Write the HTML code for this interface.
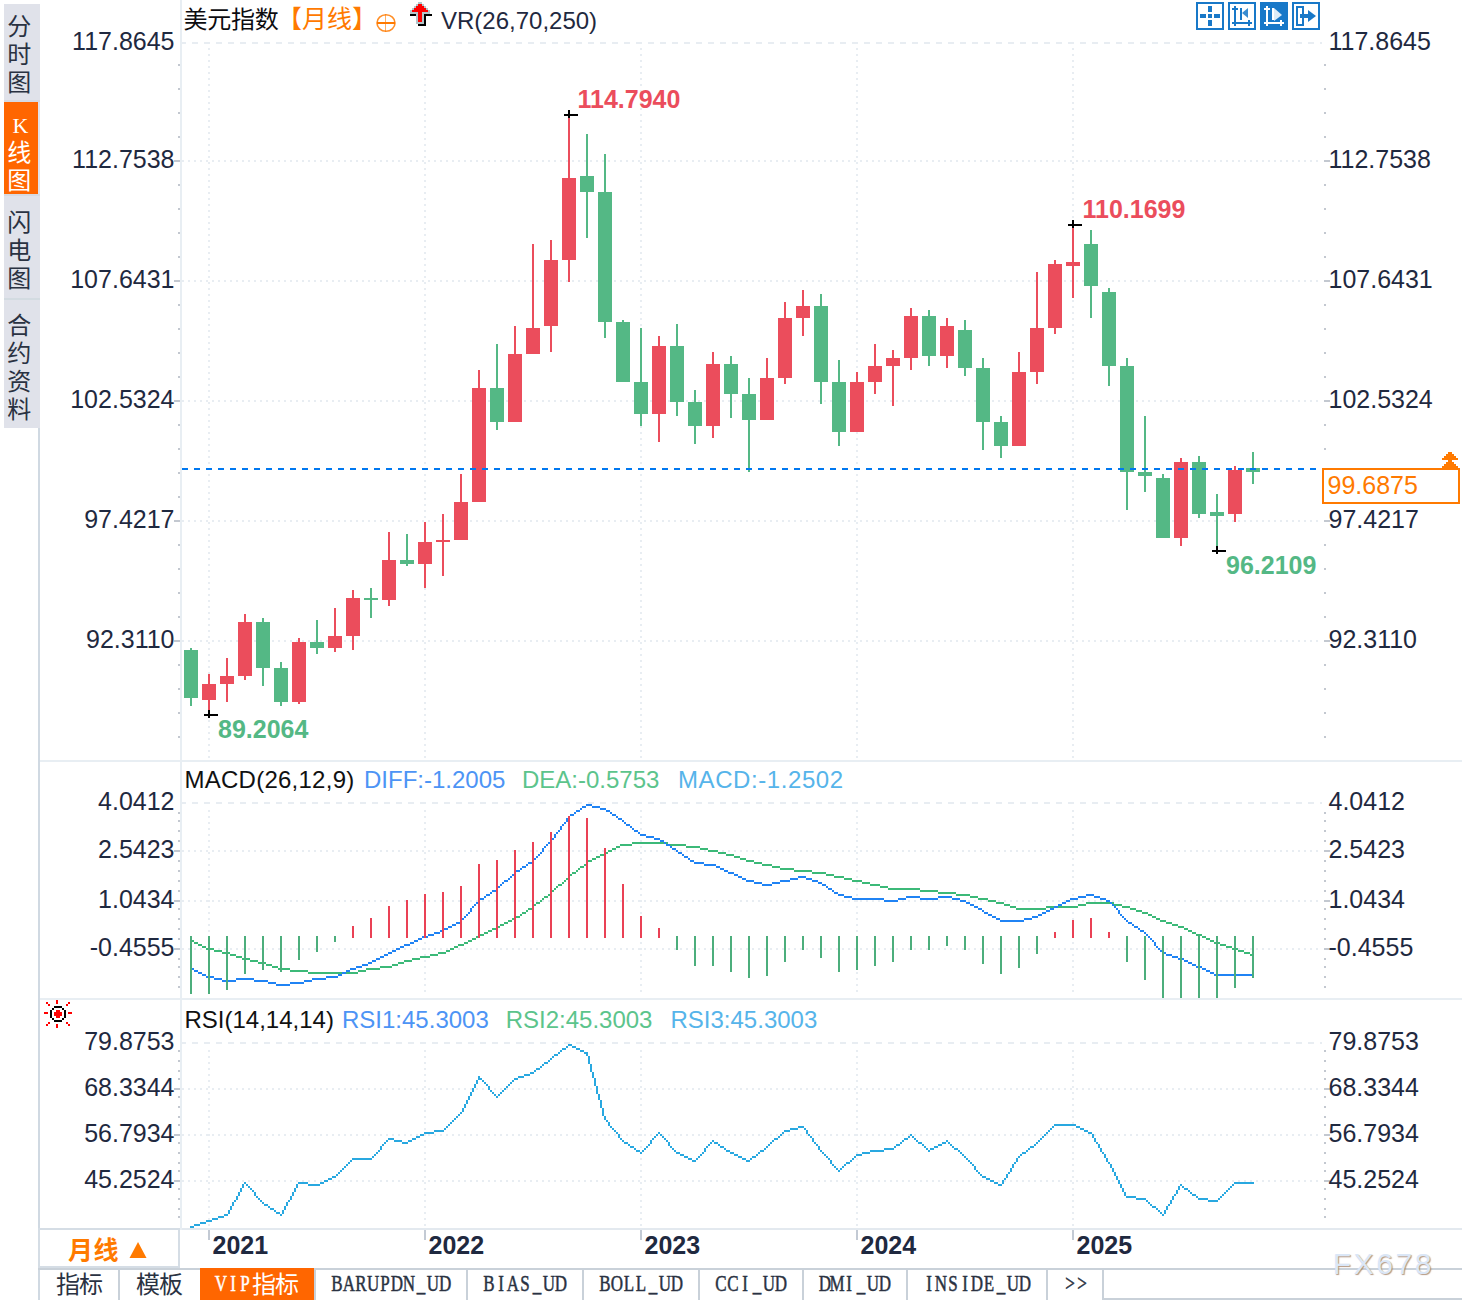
<!DOCTYPE html>
<html><head><meta charset="utf-8"><title>chart</title>
<style>
html,body{margin:0;padding:0;background:#fff;overflow:hidden}
svg{display:block;font-family:"Liberation Sans",sans-serif}
text{white-space:pre}
</style></head><body>
<svg width="1462" height="1300" viewBox="0 0 1462 1300">
<rect x="0" y="0" width="1462" height="1300" fill="#ffffff"/>
<g shape-rendering="crispEdges">
<line x1="180" x2="1322" y1="43" y2="43" stroke="#e8edf2" stroke-width="2" stroke-dasharray="6 6"/>
<line x1="182" x2="1322" y1="161" y2="161" stroke="#e8edf2" stroke-width="2" stroke-dasharray="2 4"/>
<line x1="182" x2="1322" y1="281" y2="281" stroke="#e8edf2" stroke-width="2" stroke-dasharray="2 4"/>
<line x1="182" x2="1322" y1="401" y2="401" stroke="#e8edf2" stroke-width="2" stroke-dasharray="2 4"/>
<line x1="182" x2="1322" y1="521" y2="521" stroke="#e8edf2" stroke-width="2" stroke-dasharray="2 4"/>
<line x1="182" x2="1322" y1="641" y2="641" stroke="#e8edf2" stroke-width="2" stroke-dasharray="2 4"/>
<line x1="209" x2="209" y1="48" y2="758" stroke="#e8edf2" stroke-width="2" stroke-dasharray="2 4"/>
<line x1="425" x2="425" y1="48" y2="758" stroke="#e8edf2" stroke-width="2" stroke-dasharray="2 4"/>
<line x1="641" x2="641" y1="48" y2="758" stroke="#e8edf2" stroke-width="2" stroke-dasharray="2 4"/>
<line x1="857" x2="857" y1="48" y2="758" stroke="#e8edf2" stroke-width="2" stroke-dasharray="2 4"/>
<line x1="1073" x2="1073" y1="48" y2="758" stroke="#e8edf2" stroke-width="2" stroke-dasharray="2 4"/>
<line x1="180" x2="1322" y1="803" y2="803" stroke="#e8edf2" stroke-width="2" stroke-dasharray="6 6"/>
<line x1="182" x2="1322" y1="851" y2="851" stroke="#e8edf2" stroke-width="2" stroke-dasharray="2 4"/>
<line x1="182" x2="1322" y1="901" y2="901" stroke="#e8edf2" stroke-width="2" stroke-dasharray="2 4"/>
<line x1="182" x2="1322" y1="949" y2="949" stroke="#e8edf2" stroke-width="2" stroke-dasharray="2 4"/>
<line x1="209" x2="209" y1="810" y2="996" stroke="#e8edf2" stroke-width="2" stroke-dasharray="2 4"/>
<line x1="425" x2="425" y1="810" y2="996" stroke="#e8edf2" stroke-width="2" stroke-dasharray="2 4"/>
<line x1="641" x2="641" y1="810" y2="996" stroke="#e8edf2" stroke-width="2" stroke-dasharray="2 4"/>
<line x1="857" x2="857" y1="810" y2="996" stroke="#e8edf2" stroke-width="2" stroke-dasharray="2 4"/>
<line x1="1073" x2="1073" y1="810" y2="996" stroke="#e8edf2" stroke-width="2" stroke-dasharray="2 4"/>
<line x1="180" x2="1322" y1="1043" y2="1043" stroke="#e8edf2" stroke-width="2" stroke-dasharray="6 6"/>
<line x1="182" x2="1322" y1="1089" y2="1089" stroke="#e8edf2" stroke-width="2" stroke-dasharray="2 4"/>
<line x1="182" x2="1322" y1="1135" y2="1135" stroke="#e8edf2" stroke-width="2" stroke-dasharray="2 4"/>
<line x1="182" x2="1322" y1="1181" y2="1181" stroke="#e8edf2" stroke-width="2" stroke-dasharray="2 4"/>
<line x1="209" x2="209" y1="1050" y2="1226" stroke="#e8edf2" stroke-width="2" stroke-dasharray="2 4"/>
<line x1="425" x2="425" y1="1050" y2="1226" stroke="#e8edf2" stroke-width="2" stroke-dasharray="2 4"/>
<line x1="641" x2="641" y1="1050" y2="1226" stroke="#e8edf2" stroke-width="2" stroke-dasharray="2 4"/>
<line x1="857" x2="857" y1="1050" y2="1226" stroke="#e8edf2" stroke-width="2" stroke-dasharray="2 4"/>
<line x1="1073" x2="1073" y1="1050" y2="1226" stroke="#e8edf2" stroke-width="2" stroke-dasharray="2 4"/>
<rect x="40" y="760" width="1422" height="2" fill="#e8eef3"/>
<rect x="40" y="998" width="1422" height="2" fill="#e8eef3"/>
<rect x="40" y="1228" width="1422" height="2" fill="#e3e9ef"/>
<rect x="180" y="0" width="2" height="1230" fill="#e8eef3"/>
<rect x="38" y="428" width="2" height="872" fill="#d0d9e2"/>
<rect x="174" y="160" width="6" height="2" fill="#c3c8d0"/>
<rect x="1324" y="160" width="6" height="2" fill="#c3c8d0"/>
<rect x="174" y="280" width="6" height="2" fill="#c3c8d0"/>
<rect x="1324" y="280" width="6" height="2" fill="#c3c8d0"/>
<rect x="174" y="400" width="6" height="2" fill="#c3c8d0"/>
<rect x="1324" y="400" width="6" height="2" fill="#c3c8d0"/>
<rect x="174" y="520" width="6" height="2" fill="#c3c8d0"/>
<rect x="1324" y="520" width="6" height="2" fill="#c3c8d0"/>
<rect x="174" y="640" width="6" height="2" fill="#c3c8d0"/>
<rect x="1324" y="640" width="6" height="2" fill="#c3c8d0"/>
<rect x="178" y="64" width="2" height="2" fill="#c3c8d0"/>
<rect x="1324" y="64" width="2" height="2" fill="#c3c8d0"/>
<rect x="178" y="88" width="2" height="2" fill="#c3c8d0"/>
<rect x="1324" y="88" width="2" height="2" fill="#c3c8d0"/>
<rect x="178" y="112" width="2" height="2" fill="#c3c8d0"/>
<rect x="1324" y="112" width="2" height="2" fill="#c3c8d0"/>
<rect x="178" y="136" width="2" height="2" fill="#c3c8d0"/>
<rect x="1324" y="136" width="2" height="2" fill="#c3c8d0"/>
<rect x="178" y="184" width="2" height="2" fill="#c3c8d0"/>
<rect x="1324" y="184" width="2" height="2" fill="#c3c8d0"/>
<rect x="178" y="208" width="2" height="2" fill="#c3c8d0"/>
<rect x="1324" y="208" width="2" height="2" fill="#c3c8d0"/>
<rect x="178" y="232" width="2" height="2" fill="#c3c8d0"/>
<rect x="1324" y="232" width="2" height="2" fill="#c3c8d0"/>
<rect x="178" y="256" width="2" height="2" fill="#c3c8d0"/>
<rect x="1324" y="256" width="2" height="2" fill="#c3c8d0"/>
<rect x="178" y="304" width="2" height="2" fill="#c3c8d0"/>
<rect x="1324" y="304" width="2" height="2" fill="#c3c8d0"/>
<rect x="178" y="328" width="2" height="2" fill="#c3c8d0"/>
<rect x="1324" y="328" width="2" height="2" fill="#c3c8d0"/>
<rect x="178" y="352" width="2" height="2" fill="#c3c8d0"/>
<rect x="1324" y="352" width="2" height="2" fill="#c3c8d0"/>
<rect x="178" y="376" width="2" height="2" fill="#c3c8d0"/>
<rect x="1324" y="376" width="2" height="2" fill="#c3c8d0"/>
<rect x="178" y="424" width="2" height="2" fill="#c3c8d0"/>
<rect x="1324" y="424" width="2" height="2" fill="#c3c8d0"/>
<rect x="178" y="448" width="2" height="2" fill="#c3c8d0"/>
<rect x="1324" y="448" width="2" height="2" fill="#c3c8d0"/>
<rect x="178" y="472" width="2" height="2" fill="#c3c8d0"/>
<rect x="1324" y="472" width="2" height="2" fill="#c3c8d0"/>
<rect x="178" y="496" width="2" height="2" fill="#c3c8d0"/>
<rect x="1324" y="496" width="2" height="2" fill="#c3c8d0"/>
<rect x="178" y="544" width="2" height="2" fill="#c3c8d0"/>
<rect x="1324" y="544" width="2" height="2" fill="#c3c8d0"/>
<rect x="178" y="568" width="2" height="2" fill="#c3c8d0"/>
<rect x="1324" y="568" width="2" height="2" fill="#c3c8d0"/>
<rect x="178" y="592" width="2" height="2" fill="#c3c8d0"/>
<rect x="1324" y="592" width="2" height="2" fill="#c3c8d0"/>
<rect x="178" y="616" width="2" height="2" fill="#c3c8d0"/>
<rect x="1324" y="616" width="2" height="2" fill="#c3c8d0"/>
<rect x="178" y="664" width="2" height="2" fill="#c3c8d0"/>
<rect x="1324" y="664" width="2" height="2" fill="#c3c8d0"/>
<rect x="178" y="688" width="2" height="2" fill="#c3c8d0"/>
<rect x="1324" y="688" width="2" height="2" fill="#c3c8d0"/>
<rect x="178" y="712" width="2" height="2" fill="#c3c8d0"/>
<rect x="1324" y="712" width="2" height="2" fill="#c3c8d0"/>
<rect x="178" y="736" width="2" height="2" fill="#c3c8d0"/>
<rect x="1324" y="736" width="2" height="2" fill="#c3c8d0"/>
<rect x="174" y="850" width="6" height="2" fill="#c3c8d0"/>
<rect x="1324" y="850" width="6" height="2" fill="#c3c8d0"/>
<rect x="174" y="900" width="6" height="2" fill="#c3c8d0"/>
<rect x="1324" y="900" width="6" height="2" fill="#c3c8d0"/>
<rect x="174" y="948" width="6" height="2" fill="#c3c8d0"/>
<rect x="1324" y="948" width="6" height="2" fill="#c3c8d0"/>
<rect x="178" y="812" width="2" height="2" fill="#c3c8d0"/>
<rect x="1324" y="812" width="2" height="2" fill="#c3c8d0"/>
<rect x="178" y="820" width="2" height="2" fill="#c3c8d0"/>
<rect x="1324" y="820" width="2" height="2" fill="#c3c8d0"/>
<rect x="178" y="830" width="2" height="2" fill="#c3c8d0"/>
<rect x="1324" y="830" width="2" height="2" fill="#c3c8d0"/>
<rect x="178" y="840" width="2" height="2" fill="#c3c8d0"/>
<rect x="1324" y="840" width="2" height="2" fill="#c3c8d0"/>
<rect x="178" y="860" width="2" height="2" fill="#c3c8d0"/>
<rect x="1324" y="860" width="2" height="2" fill="#c3c8d0"/>
<rect x="178" y="870" width="2" height="2" fill="#c3c8d0"/>
<rect x="1324" y="870" width="2" height="2" fill="#c3c8d0"/>
<rect x="178" y="880" width="2" height="2" fill="#c3c8d0"/>
<rect x="1324" y="880" width="2" height="2" fill="#c3c8d0"/>
<rect x="178" y="890" width="2" height="2" fill="#c3c8d0"/>
<rect x="1324" y="890" width="2" height="2" fill="#c3c8d0"/>
<rect x="178" y="908" width="2" height="2" fill="#c3c8d0"/>
<rect x="1324" y="908" width="2" height="2" fill="#c3c8d0"/>
<rect x="178" y="918" width="2" height="2" fill="#c3c8d0"/>
<rect x="1324" y="918" width="2" height="2" fill="#c3c8d0"/>
<rect x="178" y="928" width="2" height="2" fill="#c3c8d0"/>
<rect x="1324" y="928" width="2" height="2" fill="#c3c8d0"/>
<rect x="178" y="938" width="2" height="2" fill="#c3c8d0"/>
<rect x="1324" y="938" width="2" height="2" fill="#c3c8d0"/>
<rect x="178" y="958" width="2" height="2" fill="#c3c8d0"/>
<rect x="1324" y="958" width="2" height="2" fill="#c3c8d0"/>
<rect x="178" y="966" width="2" height="2" fill="#c3c8d0"/>
<rect x="1324" y="966" width="2" height="2" fill="#c3c8d0"/>
<rect x="178" y="976" width="2" height="2" fill="#c3c8d0"/>
<rect x="1324" y="976" width="2" height="2" fill="#c3c8d0"/>
<rect x="178" y="986" width="2" height="2" fill="#c3c8d0"/>
<rect x="1324" y="986" width="2" height="2" fill="#c3c8d0"/>
<rect x="174" y="1088" width="6" height="2" fill="#c3c8d0"/>
<rect x="1324" y="1088" width="6" height="2" fill="#c3c8d0"/>
<rect x="174" y="1134" width="6" height="2" fill="#c3c8d0"/>
<rect x="1324" y="1134" width="6" height="2" fill="#c3c8d0"/>
<rect x="174" y="1180" width="6" height="2" fill="#c3c8d0"/>
<rect x="1324" y="1180" width="6" height="2" fill="#c3c8d0"/>
<rect x="178" y="1050" width="2" height="2" fill="#c3c8d0"/>
<rect x="1324" y="1050" width="2" height="2" fill="#c3c8d0"/>
<rect x="178" y="1060" width="2" height="2" fill="#c3c8d0"/>
<rect x="1324" y="1060" width="2" height="2" fill="#c3c8d0"/>
<rect x="178" y="1070" width="2" height="2" fill="#c3c8d0"/>
<rect x="1324" y="1070" width="2" height="2" fill="#c3c8d0"/>
<rect x="178" y="1078" width="2" height="2" fill="#c3c8d0"/>
<rect x="1324" y="1078" width="2" height="2" fill="#c3c8d0"/>
<rect x="178" y="1096" width="2" height="2" fill="#c3c8d0"/>
<rect x="1324" y="1096" width="2" height="2" fill="#c3c8d0"/>
<rect x="178" y="1106" width="2" height="2" fill="#c3c8d0"/>
<rect x="1324" y="1106" width="2" height="2" fill="#c3c8d0"/>
<rect x="178" y="1116" width="2" height="2" fill="#c3c8d0"/>
<rect x="1324" y="1116" width="2" height="2" fill="#c3c8d0"/>
<rect x="178" y="1124" width="2" height="2" fill="#c3c8d0"/>
<rect x="1324" y="1124" width="2" height="2" fill="#c3c8d0"/>
<rect x="178" y="1142" width="2" height="2" fill="#c3c8d0"/>
<rect x="1324" y="1142" width="2" height="2" fill="#c3c8d0"/>
<rect x="178" y="1152" width="2" height="2" fill="#c3c8d0"/>
<rect x="1324" y="1152" width="2" height="2" fill="#c3c8d0"/>
<rect x="178" y="1162" width="2" height="2" fill="#c3c8d0"/>
<rect x="1324" y="1162" width="2" height="2" fill="#c3c8d0"/>
<rect x="178" y="1170" width="2" height="2" fill="#c3c8d0"/>
<rect x="1324" y="1170" width="2" height="2" fill="#c3c8d0"/>
<rect x="178" y="1188" width="2" height="2" fill="#c3c8d0"/>
<rect x="1324" y="1188" width="2" height="2" fill="#c3c8d0"/>
<rect x="178" y="1198" width="2" height="2" fill="#c3c8d0"/>
<rect x="1324" y="1198" width="2" height="2" fill="#c3c8d0"/>
<rect x="178" y="1208" width="2" height="2" fill="#c3c8d0"/>
<rect x="1324" y="1208" width="2" height="2" fill="#c3c8d0"/>
<rect x="178" y="1216" width="2" height="2" fill="#c3c8d0"/>
<rect x="1324" y="1216" width="2" height="2" fill="#c3c8d0"/>
<rect x="208" y="1230" width="2" height="10" fill="#c3cad4"/>
<rect x="424" y="1230" width="2" height="10" fill="#c3cad4"/>
<rect x="640" y="1230" width="2" height="10" fill="#c3cad4"/>
<rect x="856" y="1230" width="2" height="10" fill="#c3cad4"/>
<rect x="1072" y="1230" width="2" height="10" fill="#c3cad4"/>
<rect x="190" y="648" width="2" height="58" fill="#54b885"/>
<rect x="184" y="650" width="14" height="48" fill="#54b885"/>
<rect x="208" y="674" width="2" height="42" fill="#eb4d5c"/>
<rect x="202" y="684" width="14" height="16" fill="#eb4d5c"/>
<rect x="226" y="658" width="2" height="44" fill="#eb4d5c"/>
<rect x="220" y="676" width="14" height="8" fill="#eb4d5c"/>
<rect x="244" y="614" width="2" height="66" fill="#eb4d5c"/>
<rect x="238" y="622" width="14" height="54" fill="#eb4d5c"/>
<rect x="262" y="618" width="2" height="68" fill="#54b885"/>
<rect x="256" y="622" width="14" height="46" fill="#54b885"/>
<rect x="280" y="662" width="2" height="44" fill="#54b885"/>
<rect x="274" y="668" width="14" height="34" fill="#54b885"/>
<rect x="298" y="638" width="2" height="66" fill="#eb4d5c"/>
<rect x="292" y="642" width="14" height="60" fill="#eb4d5c"/>
<rect x="316" y="620" width="2" height="34" fill="#54b885"/>
<rect x="310" y="642" width="14" height="6" fill="#54b885"/>
<rect x="334" y="608" width="2" height="44" fill="#eb4d5c"/>
<rect x="328" y="636" width="14" height="12" fill="#eb4d5c"/>
<rect x="352" y="590" width="2" height="60" fill="#eb4d5c"/>
<rect x="346" y="598" width="14" height="38" fill="#eb4d5c"/>
<rect x="370" y="588" width="2" height="30" fill="#54b885"/>
<rect x="364" y="598" width="14" height="2" fill="#54b885"/>
<rect x="388" y="532" width="2" height="74" fill="#eb4d5c"/>
<rect x="382" y="560" width="14" height="40" fill="#eb4d5c"/>
<rect x="406" y="534" width="2" height="32" fill="#54b885"/>
<rect x="400" y="560" width="14" height="4" fill="#54b885"/>
<rect x="424" y="522" width="2" height="66" fill="#eb4d5c"/>
<rect x="418" y="542" width="14" height="22" fill="#eb4d5c"/>
<rect x="442" y="514" width="2" height="62" fill="#eb4d5c"/>
<rect x="436" y="540" width="14" height="2" fill="#eb4d5c"/>
<rect x="460" y="474" width="2" height="66" fill="#eb4d5c"/>
<rect x="454" y="502" width="14" height="38" fill="#eb4d5c"/>
<rect x="478" y="370" width="2" height="132" fill="#eb4d5c"/>
<rect x="472" y="388" width="14" height="114" fill="#eb4d5c"/>
<rect x="496" y="344" width="2" height="86" fill="#54b885"/>
<rect x="490" y="388" width="14" height="34" fill="#54b885"/>
<rect x="514" y="326" width="2" height="96" fill="#eb4d5c"/>
<rect x="508" y="354" width="14" height="68" fill="#eb4d5c"/>
<rect x="532" y="244" width="2" height="110" fill="#eb4d5c"/>
<rect x="526" y="328" width="14" height="26" fill="#eb4d5c"/>
<rect x="550" y="240" width="2" height="112" fill="#eb4d5c"/>
<rect x="544" y="260" width="14" height="66" fill="#eb4d5c"/>
<rect x="568" y="114" width="2" height="168" fill="#eb4d5c"/>
<rect x="562" y="178" width="14" height="82" fill="#eb4d5c"/>
<rect x="586" y="134" width="2" height="104" fill="#54b885"/>
<rect x="580" y="176" width="14" height="16" fill="#54b885"/>
<rect x="604" y="154" width="2" height="184" fill="#54b885"/>
<rect x="598" y="192" width="14" height="130" fill="#54b885"/>
<rect x="622" y="320" width="2" height="62" fill="#54b885"/>
<rect x="616" y="322" width="14" height="60" fill="#54b885"/>
<rect x="640" y="328" width="2" height="98" fill="#54b885"/>
<rect x="634" y="382" width="14" height="32" fill="#54b885"/>
<rect x="658" y="336" width="2" height="106" fill="#eb4d5c"/>
<rect x="652" y="346" width="14" height="68" fill="#eb4d5c"/>
<rect x="676" y="324" width="2" height="92" fill="#54b885"/>
<rect x="670" y="346" width="14" height="56" fill="#54b885"/>
<rect x="694" y="390" width="2" height="54" fill="#54b885"/>
<rect x="688" y="402" width="14" height="24" fill="#54b885"/>
<rect x="712" y="352" width="2" height="86" fill="#eb4d5c"/>
<rect x="706" y="364" width="14" height="62" fill="#eb4d5c"/>
<rect x="730" y="356" width="2" height="62" fill="#54b885"/>
<rect x="724" y="364" width="14" height="30" fill="#54b885"/>
<rect x="748" y="378" width="2" height="94" fill="#54b885"/>
<rect x="742" y="394" width="14" height="26" fill="#54b885"/>
<rect x="766" y="358" width="2" height="62" fill="#eb4d5c"/>
<rect x="760" y="378" width="14" height="42" fill="#eb4d5c"/>
<rect x="784" y="302" width="2" height="82" fill="#eb4d5c"/>
<rect x="778" y="318" width="14" height="60" fill="#eb4d5c"/>
<rect x="802" y="290" width="2" height="46" fill="#eb4d5c"/>
<rect x="796" y="306" width="14" height="12" fill="#eb4d5c"/>
<rect x="820" y="294" width="2" height="110" fill="#54b885"/>
<rect x="814" y="306" width="14" height="76" fill="#54b885"/>
<rect x="838" y="360" width="2" height="86" fill="#54b885"/>
<rect x="832" y="382" width="14" height="50" fill="#54b885"/>
<rect x="856" y="372" width="2" height="60" fill="#eb4d5c"/>
<rect x="850" y="382" width="14" height="50" fill="#eb4d5c"/>
<rect x="874" y="344" width="2" height="50" fill="#eb4d5c"/>
<rect x="868" y="366" width="14" height="16" fill="#eb4d5c"/>
<rect x="892" y="350" width="2" height="56" fill="#eb4d5c"/>
<rect x="886" y="358" width="14" height="8" fill="#eb4d5c"/>
<rect x="910" y="308" width="2" height="62" fill="#eb4d5c"/>
<rect x="904" y="316" width="14" height="42" fill="#eb4d5c"/>
<rect x="928" y="310" width="2" height="56" fill="#54b885"/>
<rect x="922" y="316" width="14" height="40" fill="#54b885"/>
<rect x="946" y="318" width="2" height="50" fill="#eb4d5c"/>
<rect x="940" y="326" width="14" height="30" fill="#eb4d5c"/>
<rect x="964" y="320" width="2" height="56" fill="#54b885"/>
<rect x="958" y="330" width="14" height="38" fill="#54b885"/>
<rect x="982" y="358" width="2" height="92" fill="#54b885"/>
<rect x="976" y="368" width="14" height="54" fill="#54b885"/>
<rect x="1000" y="416" width="2" height="42" fill="#54b885"/>
<rect x="994" y="422" width="14" height="24" fill="#54b885"/>
<rect x="1018" y="352" width="2" height="94" fill="#eb4d5c"/>
<rect x="1012" y="372" width="14" height="74" fill="#eb4d5c"/>
<rect x="1036" y="272" width="2" height="112" fill="#eb4d5c"/>
<rect x="1030" y="328" width="14" height="44" fill="#eb4d5c"/>
<rect x="1054" y="260" width="2" height="74" fill="#eb4d5c"/>
<rect x="1048" y="264" width="14" height="64" fill="#eb4d5c"/>
<rect x="1072" y="224" width="2" height="74" fill="#eb4d5c"/>
<rect x="1066" y="262" width="14" height="4" fill="#eb4d5c"/>
<rect x="1090" y="230" width="2" height="88" fill="#54b885"/>
<rect x="1084" y="244" width="14" height="42" fill="#54b885"/>
<rect x="1108" y="288" width="2" height="98" fill="#54b885"/>
<rect x="1102" y="292" width="14" height="74" fill="#54b885"/>
<rect x="1126" y="358" width="2" height="152" fill="#54b885"/>
<rect x="1120" y="366" width="14" height="106" fill="#54b885"/>
<rect x="1144" y="416" width="2" height="76" fill="#54b885"/>
<rect x="1138" y="472" width="14" height="4" fill="#54b885"/>
<rect x="1162" y="474" width="2" height="64" fill="#54b885"/>
<rect x="1156" y="478" width="14" height="60" fill="#54b885"/>
<rect x="1180" y="458" width="2" height="88" fill="#eb4d5c"/>
<rect x="1174" y="462" width="14" height="76" fill="#eb4d5c"/>
<rect x="1198" y="456" width="2" height="62" fill="#54b885"/>
<rect x="1192" y="462" width="14" height="52" fill="#54b885"/>
<rect x="1216" y="494" width="2" height="58" fill="#54b885"/>
<rect x="1210" y="512" width="14" height="4" fill="#54b885"/>
<rect x="1234" y="466" width="2" height="56" fill="#eb4d5c"/>
<rect x="1228" y="470" width="14" height="44" fill="#eb4d5c"/>
<rect x="1252" y="452" width="2" height="32" fill="#54b885"/>
<rect x="1246" y="468" width="14" height="4" fill="#54b885"/>
<line x1="182" x2="1316" y1="469" y2="469" stroke="#0078f0" stroke-width="2" stroke-dasharray="6 6"/>
<rect x="564" y="114" width="14" height="2" fill="#000"/>
<rect x="568" y="110" width="2" height="8" fill="#000"/>
<rect x="204" y="714" width="14" height="2" fill="#000"/>
<rect x="208" y="710" width="2" height="8" fill="#000"/>
<rect x="1068" y="224" width="14" height="2" fill="#000"/>
<rect x="1072" y="220" width="2" height="8" fill="#000"/>
<rect x="1212" y="550" width="14" height="2" fill="#000"/>
<rect x="1216" y="546" width="2" height="8" fill="#000"/>
<path fill="#3cb978" d="M632 842h36v2h-36zM620 844h12v2h-12zM668 844h18v2h-18zM616 846h4v2h-4zM686 846h14v2h-14zM612 848h4v2h-4zM700 848h8v2h-8zM608 850h4v2h-4zM708 850h10v2h-10zM604 852h4v2h-4zM718 852h8v2h-8zM600 854h4v2h-4zM726 854h8v2h-8zM596 856h4v2h-4zM734 856h6v2h-6zM592 858h4v2h-4zM740 858h6v2h-6zM588 860h4v2h-4zM746 860h8v2h-8zM586 862h2v2h-2zM754 862h8v2h-8zM584 864h2v2h-2zM762 864h10v2h-10zM580 866h4v2h-4zM772 866h8v2h-8zM578 868h2v2h-2zM780 868h14v2h-14zM576 870h2v2h-2zM794 870h18v2h-18zM572 872h4v2h-4zM812 872h14v2h-14zM570 874h2v2h-2zM826 874h8v2h-8zM568 876h2v2h-2zM834 876h10v2h-10zM566 878h2v2h-2zM844 878h8v2h-8zM564 880h2v2h-2zM852 880h10v2h-10zM562 882h2v2h-2zM862 882h8v2h-8zM558 884h4v2h-4zM870 884h10v2h-10zM556 886h2v2h-2zM880 886h8v2h-8zM554 888h2v2h-2zM888 888h32v2h-32zM552 890h2v2h-2zM920 890h18v2h-18zM550 892h2v2h-2zM938 892h18v2h-18zM548 894h2v2h-2zM956 894h14v2h-14zM544 896h4v2h-4zM970 896h8v2h-8zM542 898h2v2h-2zM978 898h10v2h-10zM540 900h2v2h-2zM988 900h8v2h-8zM536 902h4v2h-4zM996 902h8v2h-8zM1086 902h28v2h-28zM534 904h2v2h-2zM1004 904h6v2h-6zM1078 904h8v2h-8zM1114 904h8v2h-8zM532 906h2v2h-2zM1010 906h6v2h-6zM1046 906h32v2h-32zM1122 906h8v2h-8zM528 908h4v2h-4zM1016 908h30v2h-30zM1130 908h6v2h-6zM526 910h2v2h-2zM1136 910h6v2h-6zM522 912h4v2h-4zM1142 912h6v2h-6zM520 914h2v2h-2zM1148 914h4v2h-4zM516 916h4v2h-4zM1152 916h4v2h-4zM512 918h4v2h-4zM1156 918h4v2h-4zM508 920h4v2h-4zM1160 920h6v2h-6zM504 922h4v2h-4zM1166 922h6v2h-6zM500 924h4v2h-4zM1172 924h6v2h-6zM496 926h4v2h-4zM1178 926h6v2h-6zM492 928h4v2h-4zM1184 928h4v2h-4zM488 930h4v2h-4zM1188 930h4v2h-4zM484 932h4v2h-4zM1192 932h4v2h-4zM480 934h4v2h-4zM1196 934h6v2h-6zM476 936h4v2h-4zM1202 936h4v2h-4zM472 938h4v2h-4zM1206 938h4v2h-4zM190 940h4v2h-4zM468 940h4v2h-4zM1210 940h4v2h-4zM194 942h4v2h-4zM464 942h4v2h-4zM1214 942h6v2h-6zM198 944h4v2h-4zM458 944h6v2h-6zM1220 944h6v2h-6zM202 946h4v2h-4zM454 946h4v2h-4zM1226 946h6v2h-6zM206 948h8v2h-8zM450 948h4v2h-4zM1232 948h6v2h-6zM214 950h8v2h-8zM446 950h4v2h-4zM1238 950h6v2h-6zM222 952h8v2h-8zM438 952h8v2h-8zM1244 952h6v2h-6zM230 954h6v2h-6zM430 954h8v2h-8zM1250 954h4v2h-4zM236 956h6v2h-6zM420 956h10v2h-10zM242 958h8v2h-8zM412 958h8v2h-8zM250 960h8v2h-8zM404 960h8v2h-8zM258 962h8v2h-8zM398 962h6v2h-6zM266 964h6v2h-6zM392 964h6v2h-6zM272 966h6v2h-6zM380 966h12v2h-12zM278 968h12v2h-12zM366 968h14v2h-14zM290 970h18v2h-18zM358 970h8v2h-8zM308 972h50v2h-50z"/>
<path fill="#2083f4" d="M586 804h6v2h-6zM582 806h4v2h-4zM592 806h8v2h-8zM580 808h2v2h-2zM600 808h6v2h-6zM576 810h4v2h-4zM606 810h4v2h-4zM574 812h2v2h-2zM610 812h2v2h-2zM570 814h4v2h-4zM612 814h4v2h-4zM568 816h2v2h-2zM616 816h2v2h-2zM566 818h2v2h-2zM618 818h4v2h-4zM566 820h2v2h-2zM622 820h2v2h-2zM564 822h2v2h-2zM624 822h2v2h-2zM562 824h2v2h-2zM626 824h4v2h-4zM560 826h2v2h-2zM630 826h2v2h-2zM560 828h2v2h-2zM632 828h2v2h-2zM558 830h2v2h-2zM634 830h4v2h-4zM556 832h2v2h-2zM638 832h2v2h-2zM554 834h2v2h-2zM640 834h6v2h-6zM554 836h2v2h-2zM646 836h8v2h-8zM552 838h2v2h-2zM654 838h6v2h-6zM550 840h2v2h-2zM660 840h4v2h-4zM548 842h2v2h-2zM664 842h2v2h-2zM546 844h2v2h-2zM666 844h4v2h-4zM544 846h2v2h-2zM670 846h2v2h-2zM542 848h2v2h-2zM672 848h4v2h-4zM542 850h2v2h-2zM676 850h2v2h-2zM540 852h2v2h-2zM678 852h4v2h-4zM538 854h2v2h-2zM682 854h2v2h-2zM536 856h2v2h-2zM684 856h4v2h-4zM534 858h2v2h-2zM688 858h2v2h-2zM532 860h2v2h-2zM690 860h4v2h-4zM528 862h4v2h-4zM694 862h10v2h-10zM526 864h2v2h-2zM704 864h12v2h-12zM522 866h4v2h-4zM716 866h4v2h-4zM520 868h2v2h-2zM720 868h4v2h-4zM516 870h4v2h-4zM724 870h4v2h-4zM514 872h2v2h-2zM728 872h6v2h-6zM512 874h2v2h-2zM734 874h4v2h-4zM510 876h2v2h-2zM738 876h4v2h-4zM798 876h8v2h-8zM508 878h2v2h-2zM742 878h4v2h-4zM790 878h8v2h-8zM806 878h6v2h-6zM504 880h4v2h-4zM746 880h8v2h-8zM780 880h10v2h-10zM812 880h6v2h-6zM502 882h2v2h-2zM754 882h8v2h-8zM772 882h8v2h-8zM818 882h4v2h-4zM500 884h2v2h-2zM762 884h10v2h-10zM822 884h4v2h-4zM498 886h2v2h-2zM826 886h2v2h-2zM496 888h2v2h-2zM828 888h4v2h-4zM492 890h4v2h-4zM832 890h2v2h-2zM490 892h2v2h-2zM834 892h4v2h-4zM486 894h4v2h-4zM838 894h6v2h-6zM1086 894h8v2h-8zM484 896h2v2h-2zM844 896h8v2h-8zM906 896h14v2h-14zM938 896h14v2h-14zM1078 896h8v2h-8zM1094 896h6v2h-6zM480 898h4v2h-4zM852 898h32v2h-32zM898 898h8v2h-8zM920 898h18v2h-18zM952 898h8v2h-8zM1070 898h8v2h-8zM1100 898h6v2h-6zM478 900h2v2h-2zM884 900h14v2h-14zM960 900h6v2h-6zM1066 900h4v2h-4zM1106 900h4v2h-4zM476 902h2v2h-2zM966 902h4v2h-4zM1062 902h4v2h-4zM1110 902h2v2h-2zM474 904h2v2h-2zM970 904h4v2h-4zM1058 904h4v2h-4zM1112 904h2v2h-2zM472 906h2v2h-2zM974 906h4v2h-4zM1054 906h4v2h-4zM1114 906h2v2h-2zM470 908h2v2h-2zM978 908h4v2h-4zM1050 908h4v2h-4zM1116 908h2v2h-2zM470 910h2v2h-2zM982 910h2v2h-2zM1046 910h4v2h-4zM1118 910h2v2h-2zM468 912h2v2h-2zM984 912h4v2h-4zM1042 912h4v2h-4zM1118 912h2v2h-2zM466 914h2v2h-2zM988 914h4v2h-4zM1038 914h4v2h-4zM1120 914h2v2h-2zM464 916h2v2h-2zM992 916h4v2h-4zM1032 916h6v2h-6zM1122 916h2v2h-2zM462 918h2v2h-2zM996 918h4v2h-4zM1024 918h8v2h-8zM1124 918h2v2h-2zM460 920h2v2h-2zM1000 920h24v2h-24zM1126 920h2v2h-2zM456 922h4v2h-4zM1128 922h4v2h-4zM452 924h4v2h-4zM1132 924h2v2h-2zM448 926h4v2h-4zM1134 926h4v2h-4zM444 928h4v2h-4zM1138 928h2v2h-2zM440 930h4v2h-4zM1140 930h4v2h-4zM434 932h6v2h-6zM1144 932h2v2h-2zM428 934h6v2h-6zM1146 934h2v2h-2zM422 936h6v2h-6zM1148 936h2v2h-2zM418 938h4v2h-4zM1150 938h2v2h-2zM414 940h4v2h-4zM1152 940h2v2h-2zM410 942h4v2h-4zM1154 942h2v2h-2zM404 944h6v2h-6zM1154 944h2v2h-2zM400 946h4v2h-4zM1156 946h2v2h-2zM396 948h4v2h-4zM1158 948h2v2h-2zM392 950h4v2h-4zM1160 950h2v2h-2zM388 952h4v2h-4zM1162 952h4v2h-4zM384 954h4v2h-4zM1166 954h6v2h-6zM380 956h4v2h-4zM1172 956h6v2h-6zM376 958h4v2h-4zM1178 958h6v2h-6zM372 960h4v2h-4zM1184 960h4v2h-4zM368 962h4v2h-4zM1188 962h4v2h-4zM362 964h6v2h-6zM1192 964h4v2h-4zM356 966h6v2h-6zM1196 966h6v2h-6zM190 968h4v2h-4zM350 968h6v2h-6zM1202 968h4v2h-4zM194 970h4v2h-4zM346 970h4v2h-4zM1206 970h4v2h-4zM198 972h4v2h-4zM342 972h4v2h-4zM1210 972h4v2h-4zM202 974h4v2h-4zM338 974h4v2h-4zM1214 974h40v2h-40zM206 976h8v2h-8zM326 976h12v2h-12zM214 978h8v2h-8zM236 978h18v2h-18zM312 978h14v2h-14zM222 980h14v2h-14zM254 980h14v2h-14zM304 980h8v2h-8zM268 982h8v2h-8zM290 982h14v2h-14zM276 984h14v2h-14z"/>
<path fill="#29a8e0" d="M568 1044h4v2h-4zM566 1046h2v2h-2zM572 1046h4v2h-4zM562 1048h4v2h-4zM576 1048h4v2h-4zM560 1050h2v2h-2zM580 1050h4v2h-4zM558 1052h2v2h-2zM584 1052h4v2h-4zM554 1054h4v2h-4zM586 1054h2v2h-2zM552 1056h2v2h-2zM588 1056h2v2h-2zM550 1058h2v2h-2zM588 1058h2v2h-2zM548 1060h2v2h-2zM588 1060h2v2h-2zM544 1062h4v2h-4zM588 1062h2v2h-2zM542 1064h2v2h-2zM590 1064h2v2h-2zM540 1066h2v2h-2zM590 1066h2v2h-2zM536 1068h4v2h-4zM590 1068h2v2h-2zM534 1070h2v2h-2zM590 1070h2v2h-2zM530 1072h4v2h-4zM592 1072h2v2h-2zM524 1074h6v2h-6zM592 1074h2v2h-2zM478 1076h2v2h-2zM518 1076h6v2h-6zM592 1076h2v2h-2zM478 1078h4v2h-4zM514 1078h4v2h-4zM594 1078h2v2h-2zM476 1080h2v2h-2zM482 1080h2v2h-2zM512 1080h2v2h-2zM594 1080h2v2h-2zM476 1082h2v2h-2zM484 1082h2v2h-2zM510 1082h2v2h-2zM594 1082h2v2h-2zM474 1084h2v2h-2zM486 1084h2v2h-2zM508 1084h2v2h-2zM594 1084h2v2h-2zM474 1086h2v2h-2zM488 1086h2v2h-2zM506 1086h2v2h-2zM596 1086h2v2h-2zM472 1088h2v2h-2zM488 1088h2v2h-2zM504 1088h2v2h-2zM596 1088h2v2h-2zM472 1090h2v2h-2zM490 1090h2v2h-2zM502 1090h2v2h-2zM596 1090h2v2h-2zM470 1092h2v2h-2zM492 1092h2v2h-2zM500 1092h2v2h-2zM596 1092h2v2h-2zM470 1094h2v2h-2zM494 1094h2v2h-2zM498 1094h2v2h-2zM598 1094h2v2h-2zM468 1096h2v2h-2zM496 1096h2v2h-2zM598 1096h2v2h-2zM468 1098h2v2h-2zM598 1098h2v2h-2zM466 1100h2v2h-2zM600 1100h2v2h-2zM466 1102h2v2h-2zM600 1102h2v2h-2zM464 1104h2v2h-2zM600 1104h2v2h-2zM464 1106h2v2h-2zM600 1106h2v2h-2zM462 1108h2v2h-2zM602 1108h2v2h-2zM462 1110h2v2h-2zM602 1110h2v2h-2zM460 1112h2v2h-2zM602 1112h2v2h-2zM458 1114h2v2h-2zM602 1114h2v2h-2zM456 1116h2v2h-2zM604 1116h2v2h-2zM454 1118h2v2h-2zM604 1118h2v2h-2zM452 1120h2v2h-2zM606 1120h2v2h-2zM450 1122h2v2h-2zM608 1122h2v2h-2zM448 1124h2v2h-2zM608 1124h2v2h-2zM1054 1124h22v2h-22zM446 1126h2v2h-2zM610 1126h2v2h-2zM798 1126h6v2h-6zM1052 1126h2v2h-2zM1076 1126h4v2h-4zM444 1128h2v2h-2zM612 1128h2v2h-2zM790 1128h8v2h-8zM804 1128h2v2h-2zM1050 1128h2v2h-2zM1080 1128h4v2h-4zM434 1130h10v2h-10zM614 1130h2v2h-2zM784 1130h6v2h-6zM806 1130h2v2h-2zM1048 1130h2v2h-2zM1084 1130h4v2h-4zM424 1132h10v2h-10zM616 1132h2v2h-2zM658 1132h2v2h-2zM782 1132h2v2h-2zM806 1132h2v2h-2zM1046 1132h2v2h-2zM1088 1132h4v2h-4zM420 1134h4v2h-4zM618 1134h2v2h-2zM656 1134h2v2h-2zM660 1134h2v2h-2zM780 1134h2v2h-2zM808 1134h2v2h-2zM910 1134h2v2h-2zM1044 1134h2v2h-2zM1092 1134h2v2h-2zM416 1136h4v2h-4zM618 1136h2v2h-2zM654 1136h2v2h-2zM662 1136h2v2h-2zM778 1136h2v2h-2zM810 1136h2v2h-2zM908 1136h2v2h-2zM912 1136h2v2h-2zM1042 1136h2v2h-2zM1092 1136h2v2h-2zM388 1138h6v2h-6zM412 1138h4v2h-4zM620 1138h2v2h-2zM652 1138h2v2h-2zM664 1138h2v2h-2zM774 1138h4v2h-4zM812 1138h2v2h-2zM904 1138h4v2h-4zM914 1138h2v2h-2zM1040 1138h2v2h-2zM1094 1138h2v2h-2zM386 1140h2v2h-2zM394 1140h8v2h-8zM408 1140h4v2h-4zM622 1140h2v2h-2zM650 1140h2v2h-2zM666 1140h2v2h-2zM712 1140h2v2h-2zM772 1140h2v2h-2zM812 1140h2v2h-2zM902 1140h2v2h-2zM916 1140h2v2h-2zM946 1140h2v2h-2zM1038 1140h2v2h-2zM1094 1140h2v2h-2zM384 1142h2v2h-2zM402 1142h6v2h-6zM624 1142h4v2h-4zM650 1142h2v2h-2zM668 1142h2v2h-2zM710 1142h2v2h-2zM714 1142h4v2h-4zM770 1142h2v2h-2zM814 1142h2v2h-2zM900 1142h2v2h-2zM918 1142h4v2h-4zM942 1142h4v2h-4zM948 1142h2v2h-2zM1036 1142h2v2h-2zM1096 1142h2v2h-2zM382 1144h2v2h-2zM628 1144h2v2h-2zM648 1144h2v2h-2zM668 1144h2v2h-2zM708 1144h2v2h-2zM718 1144h2v2h-2zM768 1144h2v2h-2zM816 1144h2v2h-2zM896 1144h4v2h-4zM922 1144h2v2h-2zM938 1144h4v2h-4zM950 1144h2v2h-2zM1034 1144h2v2h-2zM1098 1144h2v2h-2zM380 1146h2v2h-2zM630 1146h4v2h-4zM646 1146h2v2h-2zM670 1146h2v2h-2zM706 1146h2v2h-2zM720 1146h4v2h-4zM766 1146h2v2h-2zM818 1146h2v2h-2zM894 1146h2v2h-2zM924 1146h2v2h-2zM934 1146h4v2h-4zM952 1146h2v2h-2zM1030 1146h4v2h-4zM1098 1146h2v2h-2zM380 1148h2v2h-2zM634 1148h2v2h-2zM644 1148h2v2h-2zM672 1148h2v2h-2zM704 1148h2v2h-2zM724 1148h2v2h-2zM764 1148h2v2h-2zM818 1148h2v2h-2zM884 1148h10v2h-10zM926 1148h2v2h-2zM930 1148h4v2h-4zM954 1148h4v2h-4zM1028 1148h2v2h-2zM1100 1148h2v2h-2zM378 1150h2v2h-2zM636 1150h4v2h-4zM642 1150h2v2h-2zM674 1150h2v2h-2zM704 1150h2v2h-2zM726 1150h4v2h-4zM760 1150h4v2h-4zM820 1150h2v2h-2zM870 1150h14v2h-14zM928 1150h2v2h-2zM958 1150h2v2h-2zM1026 1150h2v2h-2zM1100 1150h2v2h-2zM376 1152h2v2h-2zM640 1152h2v2h-2zM676 1152h4v2h-4zM702 1152h2v2h-2zM730 1152h4v2h-4zM758 1152h2v2h-2zM822 1152h2v2h-2zM862 1152h8v2h-8zM960 1152h2v2h-2zM1022 1152h4v2h-4zM1102 1152h2v2h-2zM374 1154h2v2h-2zM680 1154h4v2h-4zM700 1154h2v2h-2zM734 1154h4v2h-4zM756 1154h2v2h-2zM824 1154h2v2h-2zM856 1154h6v2h-6zM962 1154h2v2h-2zM1020 1154h2v2h-2zM1104 1154h2v2h-2zM372 1156h2v2h-2zM684 1156h4v2h-4zM698 1156h2v2h-2zM738 1156h4v2h-4zM752 1156h4v2h-4zM826 1156h2v2h-2zM854 1156h2v2h-2zM964 1156h2v2h-2zM1018 1156h2v2h-2zM1104 1156h2v2h-2zM352 1158h20v2h-20zM688 1158h4v2h-4zM696 1158h2v2h-2zM742 1158h4v2h-4zM750 1158h2v2h-2zM828 1158h2v2h-2zM852 1158h2v2h-2zM966 1158h2v2h-2zM1016 1158h2v2h-2zM1106 1158h2v2h-2zM350 1160h2v2h-2zM692 1160h4v2h-4zM746 1160h4v2h-4zM830 1160h2v2h-2zM850 1160h2v2h-2zM968 1160h2v2h-2zM1016 1160h2v2h-2zM1106 1160h2v2h-2zM348 1162h2v2h-2zM830 1162h2v2h-2zM846 1162h4v2h-4zM970 1162h2v2h-2zM1014 1162h2v2h-2zM1108 1162h2v2h-2zM346 1164h2v2h-2zM832 1164h2v2h-2zM844 1164h2v2h-2zM972 1164h2v2h-2zM1012 1164h2v2h-2zM1110 1164h2v2h-2zM344 1166h2v2h-2zM834 1166h2v2h-2zM842 1166h2v2h-2zM974 1166h2v2h-2zM1012 1166h2v2h-2zM1110 1166h2v2h-2zM342 1168h2v2h-2zM836 1168h2v2h-2zM840 1168h2v2h-2zM974 1168h2v2h-2zM1010 1168h2v2h-2zM1112 1168h2v2h-2zM340 1170h2v2h-2zM838 1170h2v2h-2zM976 1170h2v2h-2zM1010 1170h2v2h-2zM1112 1170h2v2h-2zM338 1172h2v2h-2zM978 1172h2v2h-2zM1008 1172h2v2h-2zM1114 1172h2v2h-2zM336 1174h2v2h-2zM980 1174h2v2h-2zM1006 1174h2v2h-2zM1114 1174h2v2h-2zM332 1176h4v2h-4zM982 1176h4v2h-4zM1006 1176h2v2h-2zM1116 1176h2v2h-2zM328 1178h4v2h-4zM986 1178h4v2h-4zM1004 1178h2v2h-2zM1116 1178h2v2h-2zM324 1180h4v2h-4zM990 1180h4v2h-4zM1002 1180h2v2h-2zM1118 1180h2v2h-2zM244 1182h2v2h-2zM298 1182h10v2h-10zM320 1182h4v2h-4zM994 1182h4v2h-4zM1002 1182h2v2h-2zM1118 1182h2v2h-2zM1234 1182h20v2h-20zM242 1184h2v2h-2zM246 1184h2v2h-2zM296 1184h2v2h-2zM308 1184h12v2h-12zM998 1184h4v2h-4zM1120 1184h2v2h-2zM1180 1184h2v2h-2zM1232 1184h2v2h-2zM242 1186h2v2h-2zM248 1186h2v2h-2zM296 1186h2v2h-2zM1120 1186h2v2h-2zM1178 1186h2v2h-2zM1182 1186h2v2h-2zM1230 1186h2v2h-2zM240 1188h2v2h-2zM250 1188h2v2h-2zM294 1188h2v2h-2zM1122 1188h2v2h-2zM1178 1188h2v2h-2zM1184 1188h4v2h-4zM1228 1188h2v2h-2zM240 1190h2v2h-2zM252 1190h2v2h-2zM294 1190h2v2h-2zM1122 1190h2v2h-2zM1176 1190h2v2h-2zM1188 1190h2v2h-2zM1226 1190h2v2h-2zM238 1192h2v2h-2zM254 1192h2v2h-2zM292 1192h2v2h-2zM1124 1192h2v2h-2zM1176 1192h2v2h-2zM1190 1192h2v2h-2zM1224 1192h2v2h-2zM238 1194h2v2h-2zM254 1194h2v2h-2zM292 1194h2v2h-2zM1124 1194h2v2h-2zM1174 1194h2v2h-2zM1192 1194h4v2h-4zM1222 1194h2v2h-2zM236 1196h2v2h-2zM256 1196h2v2h-2zM290 1196h2v2h-2zM1126 1196h10v2h-10zM1172 1196h2v2h-2zM1196 1196h2v2h-2zM1220 1196h2v2h-2zM236 1198h2v2h-2zM258 1198h2v2h-2zM290 1198h2v2h-2zM1136 1198h10v2h-10zM1172 1198h2v2h-2zM1198 1198h10v2h-10zM1218 1198h2v2h-2zM234 1200h2v2h-2zM260 1200h2v2h-2zM288 1200h2v2h-2zM1146 1200h2v2h-2zM1170 1200h2v2h-2zM1208 1200h10v2h-10zM232 1202h2v2h-2zM262 1202h2v2h-2zM286 1202h2v2h-2zM1148 1202h2v2h-2zM1170 1202h2v2h-2zM232 1204h2v2h-2zM264 1204h4v2h-4zM286 1204h2v2h-2zM1150 1204h2v2h-2zM1168 1204h2v2h-2zM230 1206h2v2h-2zM268 1206h2v2h-2zM284 1206h2v2h-2zM1152 1206h4v2h-4zM1166 1206h2v2h-2zM230 1208h2v2h-2zM270 1208h4v2h-4zM284 1208h2v2h-2zM1156 1208h2v2h-2zM1166 1208h2v2h-2zM228 1210h2v2h-2zM274 1210h2v2h-2zM282 1210h2v2h-2zM1158 1210h2v2h-2zM1164 1210h2v2h-2zM228 1212h2v2h-2zM276 1212h4v2h-4zM282 1212h2v2h-2zM1160 1212h2v2h-2zM1164 1212h2v2h-2zM224 1214h4v2h-4zM280 1214h2v2h-2zM1162 1214h2v2h-2zM218 1216h6v2h-6zM212 1218h6v2h-6zM206 1220h6v2h-6zM200 1222h6v2h-6zM194 1224h6v2h-6zM190 1226h4v2h-4z"/>
<rect x="190" y="936" width="2" height="58" fill="#4cae7c"/>
<rect x="208" y="936" width="2" height="58" fill="#4cae7c"/>
<rect x="226" y="936" width="2" height="54" fill="#4cae7c"/>
<rect x="244" y="936" width="2" height="38" fill="#4cae7c"/>
<rect x="262" y="936" width="2" height="34" fill="#4cae7c"/>
<rect x="280" y="936" width="2" height="36" fill="#4cae7c"/>
<rect x="298" y="936" width="2" height="24" fill="#4cae7c"/>
<rect x="316" y="936" width="2" height="16" fill="#4cae7c"/>
<rect x="334" y="936" width="2" height="6" fill="#4cae7c"/>
<rect x="352" y="926" width="2" height="12" fill="#ea4155"/>
<rect x="370" y="918" width="2" height="20" fill="#ea4155"/>
<rect x="388" y="906" width="2" height="32" fill="#ea4155"/>
<rect x="406" y="900" width="2" height="38" fill="#ea4155"/>
<rect x="424" y="894" width="2" height="44" fill="#ea4155"/>
<rect x="442" y="892" width="2" height="46" fill="#ea4155"/>
<rect x="460" y="886" width="2" height="52" fill="#ea4155"/>
<rect x="478" y="864" width="2" height="74" fill="#ea4155"/>
<rect x="496" y="860" width="2" height="78" fill="#ea4155"/>
<rect x="514" y="850" width="2" height="88" fill="#ea4155"/>
<rect x="532" y="842" width="2" height="96" fill="#ea4155"/>
<rect x="550" y="832" width="2" height="106" fill="#ea4155"/>
<rect x="568" y="816" width="2" height="122" fill="#ea4155"/>
<rect x="586" y="818" width="2" height="120" fill="#ea4155"/>
<rect x="604" y="848" width="2" height="90" fill="#ea4155"/>
<rect x="622" y="884" width="2" height="54" fill="#ea4155"/>
<rect x="640" y="916" width="2" height="22" fill="#ea4155"/>
<rect x="658" y="928" width="2" height="10" fill="#ea4155"/>
<rect x="676" y="936" width="2" height="14" fill="#4cae7c"/>
<rect x="694" y="936" width="2" height="30" fill="#4cae7c"/>
<rect x="712" y="936" width="2" height="30" fill="#4cae7c"/>
<rect x="730" y="936" width="2" height="36" fill="#4cae7c"/>
<rect x="748" y="936" width="2" height="42" fill="#4cae7c"/>
<rect x="766" y="936" width="2" height="40" fill="#4cae7c"/>
<rect x="784" y="936" width="2" height="26" fill="#4cae7c"/>
<rect x="802" y="936" width="2" height="14" fill="#4cae7c"/>
<rect x="820" y="936" width="2" height="22" fill="#4cae7c"/>
<rect x="838" y="936" width="2" height="36" fill="#4cae7c"/>
<rect x="856" y="936" width="2" height="34" fill="#4cae7c"/>
<rect x="874" y="936" width="2" height="30" fill="#4cae7c"/>
<rect x="892" y="936" width="2" height="26" fill="#4cae7c"/>
<rect x="910" y="936" width="2" height="14" fill="#4cae7c"/>
<rect x="928" y="936" width="2" height="14" fill="#4cae7c"/>
<rect x="946" y="936" width="2" height="10" fill="#4cae7c"/>
<rect x="964" y="936" width="2" height="14" fill="#4cae7c"/>
<rect x="982" y="936" width="2" height="28" fill="#4cae7c"/>
<rect x="1000" y="936" width="2" height="38" fill="#4cae7c"/>
<rect x="1018" y="936" width="2" height="32" fill="#4cae7c"/>
<rect x="1036" y="936" width="2" height="18" fill="#4cae7c"/>
<rect x="1054" y="932" width="2" height="6" fill="#ea4155"/>
<rect x="1072" y="920" width="2" height="18" fill="#ea4155"/>
<rect x="1090" y="918" width="2" height="20" fill="#ea4155"/>
<rect x="1108" y="932" width="2" height="6" fill="#ea4155"/>
<rect x="1126" y="936" width="2" height="26" fill="#4cae7c"/>
<rect x="1144" y="936" width="2" height="44" fill="#4cae7c"/>
<rect x="1162" y="936" width="2" height="62" fill="#4cae7c"/>
<rect x="1180" y="936" width="2" height="62" fill="#4cae7c"/>
<rect x="1198" y="936" width="2" height="62" fill="#4cae7c"/>
<rect x="1216" y="936" width="2" height="62" fill="#4cae7c"/>
<rect x="1234" y="936" width="2" height="52" fill="#4cae7c"/>
<rect x="1252" y="936" width="2" height="42" fill="#4cae7c"/>
</g>
<text x="174.5" y="50" font-size="25" fill="#1f2940" font-weight="normal" text-anchor="end">117.8645</text>
<text x="1328.5" y="50" font-size="25" fill="#1f2940" font-weight="normal" text-anchor="start">117.8645</text>
<text x="174.5" y="168" font-size="25" fill="#1f2940" font-weight="normal" text-anchor="end">112.7538</text>
<text x="1328.5" y="168" font-size="25" fill="#1f2940" font-weight="normal" text-anchor="start">112.7538</text>
<text x="174.5" y="288" font-size="25" fill="#1f2940" font-weight="normal" text-anchor="end">107.6431</text>
<text x="1328.5" y="288" font-size="25" fill="#1f2940" font-weight="normal" text-anchor="start">107.6431</text>
<text x="174.5" y="408" font-size="25" fill="#1f2940" font-weight="normal" text-anchor="end">102.5324</text>
<text x="1328.5" y="408" font-size="25" fill="#1f2940" font-weight="normal" text-anchor="start">102.5324</text>
<text x="174.5" y="528" font-size="25" fill="#1f2940" font-weight="normal" text-anchor="end">97.4217</text>
<text x="1328.5" y="528" font-size="25" fill="#1f2940" font-weight="normal" text-anchor="start">97.4217</text>
<text x="174.5" y="648" font-size="25" fill="#1f2940" font-weight="normal" text-anchor="end">92.3110</text>
<text x="1328.5" y="648" font-size="25" fill="#1f2940" font-weight="normal" text-anchor="start">92.3110</text>
<text x="174.5" y="810" font-size="25" fill="#1f2940" font-weight="normal" text-anchor="end">4.0412</text>
<text x="1328.5" y="810" font-size="25" fill="#1f2940" font-weight="normal" text-anchor="start">4.0412</text>
<text x="174.5" y="858" font-size="25" fill="#1f2940" font-weight="normal" text-anchor="end">2.5423</text>
<text x="1328.5" y="858" font-size="25" fill="#1f2940" font-weight="normal" text-anchor="start">2.5423</text>
<text x="174.5" y="908" font-size="25" fill="#1f2940" font-weight="normal" text-anchor="end">1.0434</text>
<text x="1328.5" y="908" font-size="25" fill="#1f2940" font-weight="normal" text-anchor="start">1.0434</text>
<text x="174.5" y="956" font-size="25" fill="#1f2940" font-weight="normal" text-anchor="end">-0.4555</text>
<text x="1328.5" y="956" font-size="25" fill="#1f2940" font-weight="normal" text-anchor="start">-0.4555</text>
<text x="174.5" y="1050" font-size="25" fill="#1f2940" font-weight="normal" text-anchor="end">79.8753</text>
<text x="1328.5" y="1050" font-size="25" fill="#1f2940" font-weight="normal" text-anchor="start">79.8753</text>
<text x="174.5" y="1096" font-size="25" fill="#1f2940" font-weight="normal" text-anchor="end">68.3344</text>
<text x="1328.5" y="1096" font-size="25" fill="#1f2940" font-weight="normal" text-anchor="start">68.3344</text>
<text x="174.5" y="1142" font-size="25" fill="#1f2940" font-weight="normal" text-anchor="end">56.7934</text>
<text x="1328.5" y="1142" font-size="25" fill="#1f2940" font-weight="normal" text-anchor="start">56.7934</text>
<text x="174.5" y="1188" font-size="25" fill="#1f2940" font-weight="normal" text-anchor="end">45.2524</text>
<text x="1328.5" y="1188" font-size="25" fill="#1f2940" font-weight="normal" text-anchor="start">45.2524</text>
<text x="577.5" y="108" font-size="25" fill="#eb4d5c" font-weight="bold" text-anchor="start">114.7940</text>
<text x="218" y="738" font-size="25" fill="#54b885" font-weight="bold" text-anchor="start">89.2064</text>
<text x="1082.5" y="218" font-size="25" fill="#eb4d5c" font-weight="bold" text-anchor="start">110.1699</text>
<text x="1226" y="574" font-size="25" fill="#54b885" font-weight="bold" text-anchor="start">96.2109</text>
<rect x="1323" y="469" width="136" height="34" fill="#fff" stroke="#ff7a00" stroke-width="2" shape-rendering="crispEdges"/>
<text x="1327.5" y="494" font-size="25" fill="#ff7a00" font-weight="normal" text-anchor="start">99.6875</text>
<g shape-rendering="crispEdges">
<rect x="1448" y="452" width="4" height="2" fill="#ff7a00"/>
<rect x="1446" y="454" width="8" height="2" fill="#ff7a00"/>
<rect x="1444" y="456" width="12" height="2" fill="#ff7a00"/>
<rect x="1442" y="458" width="16" height="2" fill="#ff7a00"/>
<rect x="1448" y="460" width="4" height="2" fill="#ff7a00"/>
<rect x="1446" y="462" width="8" height="2" fill="#ff7a00"/>
<rect x="1444" y="464" width="12" height="2" fill="#ff7a00"/>
<rect x="1442" y="466" width="16" height="2" fill="#ff7a00"/>
</g>
<text x="183.4" y="28" font-size="24" fill="#0c0c10" font-family="'Liberation Sans','Noto Sans CJK SC',sans-serif" letter-spacing="-0.2">美元指数</text>
<text x="277" y="28" font-size="25" fill="#ff7a00" font-family="'Liberation Sans','Noto Sans CJK SC',sans-serif">【月线】</text>
<g stroke="#ff7a00" fill="none"><ellipse cx="386" cy="23" rx="9" ry="8.2" stroke-width="1.6" stroke-opacity=".85"/><line x1="377" x2="395" y1="23" y2="23" stroke-width="2"/><line x1="385.5" x2="385.5" y1="14" y2="32" stroke-width="1" stroke-opacity=".6"/></g>
<g shape-rendering="crispEdges">
<rect x="418" y="2" width="4" height="2" fill="#b4c6ca"/>
<rect x="416" y="4" width="8" height="2" fill="#b4c6ca"/>
<rect x="414" y="6" width="12" height="2" fill="#b4c6ca"/>
<rect x="412" y="8" width="16" height="2" fill="#b4c6ca"/>
<rect x="410" y="10" width="20" height="4" fill="#b4c6ca"/>
<rect x="416" y="14" width="8" height="10" fill="#b4c6ca"/>
<rect x="410" y="14" width="6" height="2" fill="#000"/>
<rect x="424" y="14" width="8" height="2" fill="#000"/>
<rect x="424" y="14" width="2" height="12" fill="#000"/>
<rect x="418" y="24" width="8" height="2" fill="#000"/>
<rect x="418" y="4" width="4" height="2" fill="#ff0000"/>
<rect x="416" y="6" width="8" height="2" fill="#ff0000"/>
<rect x="414" y="8" width="12" height="2" fill="#ff0000"/>
<rect x="412" y="10" width="16" height="2" fill="#ff0000"/>
<rect x="418" y="12" width="4" height="10" fill="#ff0000"/>
</g>
<text x="441" y="29" font-size="24" fill="#1f2940" font-weight="normal" text-anchor="start">VR(26,70,250)</text>
<text x="184.5" y="788" font-size="24" fill="#111" font-weight="normal" text-anchor="start" letter-spacing="0.25">MACD(26,12,9)</text>
<text x="364" y="788" font-size="24" fill="#4d94f5" font-weight="normal" text-anchor="start">DIFF:-1.2005</text>
<text x="522" y="788" font-size="24" fill="#5cc48c" font-weight="normal" text-anchor="start">DEA:-0.5753</text>
<text x="678" y="788" font-size="24" fill="#56b4ea" font-weight="normal" text-anchor="start" letter-spacing="0.58">MACD:-1.2502</text>
<text x="184.5" y="1028" font-size="24" fill="#111" font-weight="normal" text-anchor="start">RSI(14,14,14)</text>
<text x="342" y="1028" font-size="24" fill="#4d94f5" font-weight="normal" text-anchor="start">RSI1:45.3003</text>
<text x="505.7" y="1028" font-size="24" fill="#5cc48c" font-weight="normal" text-anchor="start">RSI2:45.3003</text>
<text x="670.5" y="1028" font-size="24" fill="#56b4ea" font-weight="normal" text-anchor="start">RSI3:45.3003</text>
<text x="212.5" y="1254" font-size="25" fill="#1f2940" font-weight="bold" text-anchor="start">2021</text>
<text x="428.5" y="1254" font-size="25" fill="#1f2940" font-weight="bold" text-anchor="start">2022</text>
<text x="644.5" y="1254" font-size="25" fill="#1f2940" font-weight="bold" text-anchor="start">2023</text>
<text x="860.5" y="1254" font-size="25" fill="#1f2940" font-weight="bold" text-anchor="start">2024</text>
<text x="1076.5" y="1254" font-size="25" fill="#1f2940" font-weight="bold" text-anchor="start">2025</text>
<g shape-rendering="crispEdges">
<rect x="1197" y="3" width="26" height="26" fill="#fff" stroke="#1878c8" stroke-width="2"/>
<rect x="1229" y="3" width="26" height="26" fill="#fff" stroke="#1878c8" stroke-width="2"/>
<rect x="1260" y="2" width="28" height="28" fill="#1878c8"/>
<rect x="1293" y="3" width="26" height="26" fill="#fff" stroke="#1878c8" stroke-width="2"/>
<rect x="1208" y="14" width="4" height="4" fill="#1878c8"/>
<rect x="1208" y="6" width="4" height="6" fill="#1878c8"/>
<rect x="1208" y="20" width="4" height="6" fill="#1878c8"/>
<rect x="1200" y="14" width="6" height="4" fill="#1878c8"/>
<rect x="1214" y="14" width="6" height="4" fill="#1878c8"/>
<rect x="1234" y="6" width="2" height="20" fill="#1878c8"/>
<rect x="1232" y="8" width="6" height="2" fill="#1878c8"/>
<rect x="1232" y="22" width="20" height="2" fill="#1878c8"/>
<rect x="1248" y="20" width="2" height="6" fill="#1878c8"/>
<rect x="1240" y="8" width="2" height="12" fill="#1878c8"/>
<rect x="1266" y="6" width="2" height="20" fill="#fff"/>
<rect x="1264" y="8" width="6" height="2" fill="#fff"/>
<rect x="1264" y="22" width="20" height="2" fill="#fff"/>
<rect x="1280" y="20" width="2" height="6" fill="#fff"/>
<rect x="1272" y="8" width="2" height="12" fill="#fff"/>
</g>
<path d="M1242 13 L1248 8 L1248 18 Z" fill="#1878c8" fill-opacity=".85"/>
<path d="M1274 8 L1282 15 L1274 21 Z" fill="#fff" fill-opacity=".85"/>
<rect x="1297" y="7" width="6" height="18" fill="none" stroke="#1878c8" stroke-width="2" shape-rendering="crispEdges"/>
<rect x="1300" y="14" width="10" height="4" fill="#1878c8" shape-rendering="crispEdges"/>
<path d="M1308 10 L1316 16 L1308 22 Z" fill="#1878c8"/>
<g shape-rendering="crispEdges">
<rect x="4" y="4" width="36" height="424" fill="#e0e2ea"/>
<rect x="4" y="102" width="34" height="92" fill="#ff6600"/>
<rect x="4" y="100" width="36" height="2" fill="#d6dae2"/>
<rect x="4" y="194" width="36" height="2" fill="#d6dae2"/>
<rect x="4" y="298" width="36" height="2" fill="#d3dbe1"/>
</g>
<g font-size="24" fill="#2a3242" font-family="'Liberation Sans','Noto Sans CJK SC',sans-serif">
<text x="7.3" y="35">分</text>
<text x="7.3" y="63">时</text>
<text x="7.3" y="91">图</text>
</g>
<text x="20.5" y="133" font-size="22" fill="#fff" font-weight="normal" text-anchor="middle" font-family="Liberation Serif, serif">K</text>
<g font-size="24" fill="#fff" font-family="'Liberation Sans','Noto Sans CJK SC',sans-serif">
<text x="7.3" y="161">线</text>
<text x="7.3" y="189">图</text>
</g>
<g font-size="24" fill="#2a3242" font-family="'Liberation Sans','Noto Sans CJK SC',sans-serif">
<text x="7.3" y="231">闪</text>
<text x="7.3" y="259">电</text>
<text x="7.3" y="287">图</text>
<text x="7.3" y="334">合</text>
<text x="7.3" y="362">约</text>
<text x="7.3" y="390">资</text>
<text x="7.3" y="418">料</text>
</g>
<g shape-rendering="crispEdges">
<rect x="56" y="1000" width="2" height="4" fill="#ff0000"/>
<rect x="56" y="1024" width="2" height="4" fill="#ff0000"/>
<rect x="44" y="1012" width="4" height="2" fill="#ff0000"/>
<rect x="68" y="1012" width="4" height="2" fill="#ff0000"/>
<rect x="46" y="1002" width="2" height="2" fill="#ff0000"/>
<rect x="48" y="1004" width="2" height="2" fill="#ff0000"/>
<rect x="68" y="1002" width="2" height="2" fill="#ff0000"/>
<rect x="66" y="1004" width="2" height="2" fill="#ff0000"/>
<rect x="48" y="1022" width="2" height="2" fill="#ff0000"/>
<rect x="46" y="1024" width="2" height="2" fill="#ff0000"/>
<rect x="66" y="1022" width="2" height="2" fill="#ff0000"/>
<rect x="68" y="1024" width="2" height="2" fill="#ff0000"/>
<rect x="56" y="1010" width="4" height="8" fill="#ff0000"/>
<rect x="54" y="1012" width="8" height="4" fill="#ff0000"/>
<rect x="54" y="1006" width="8" height="2" fill="#000"/>
<rect x="54" y="1020" width="8" height="2" fill="#000"/>
<rect x="50" y="1010" width="2" height="8" fill="#000"/>
<rect x="64" y="1010" width="2" height="8" fill="#000"/>
<rect x="52" y="1008" width="2" height="2" fill="#000"/>
<rect x="62" y="1008" width="2" height="2" fill="#000"/>
<rect x="52" y="1018" width="2" height="2" fill="#000"/>
<rect x="62" y="1018" width="2" height="2" fill="#000"/>
</g>
<rect x="39" y="1229" width="140" height="38" fill="#fff" stroke="#d5dde5" stroke-width="2" shape-rendering="crispEdges"/>
<text x="68" y="1259" font-size="25" font-weight="bold" fill="#ff7a00" font-family="'Liberation Sans','Noto Sans CJK SC',sans-serif" letter-spacing="0.5">月线</text>
<path d="M138 1242 L146.5 1258 L129.5 1258 Z" fill="#ff7a00"/>
<g shape-rendering="crispEdges">
<rect x="38" y="1268" width="1424" height="2" fill="#c9d1d9"/>
<rect x="1102" y="1298" width="360" height="2" fill="#c9d1d9"/>
<rect x="200" y="1268" width="114" height="32" fill="#ff6600"/>
<rect x="118" y="1270" width="2" height="30" fill="#c9d1d9"/>
<rect x="314" y="1270" width="2" height="30" fill="#c9d1d9"/>
<rect x="466" y="1270" width="2" height="30" fill="#c9d1d9"/>
<rect x="582" y="1270" width="2" height="30" fill="#c9d1d9"/>
<rect x="698" y="1270" width="2" height="30" fill="#c9d1d9"/>
<rect x="802" y="1270" width="2" height="30" fill="#c9d1d9"/>
<rect x="906" y="1270" width="2" height="30" fill="#c9d1d9"/>
<rect x="1046" y="1270" width="2" height="30" fill="#c9d1d9"/>
<rect x="1102" y="1270" width="2" height="30" fill="#c9d1d9"/>
</g>
<text x="56" y="1293" font-size="24" fill="#2a3242" font-family="'Liberation Sans','Noto Sans CJK SC',sans-serif" letter-spacing="-1">指标</text>
<text x="136" y="1293" font-size="24" fill="#2a3242" font-family="'Liberation Sans','Noto Sans CJK SC',sans-serif" letter-spacing="-1">模板</text>
<g transform="translate(215,0) scale(0.74,1)"><text y="1291" font-size="23" fill="#fff" stroke="#fff" stroke-width="0.5" font-family="Liberation Serif, serif" text-anchor="middle" x="8.1 24.3 40.5">VIP</text></g>
<text x="252" y="1293" font-size="24" fill="#fff" font-family="'Liberation Sans','Noto Sans CJK SC',sans-serif" letter-spacing="-1">指标</text>
<g transform="translate(331,0) scale(0.74,1)"><text y="1291" font-size="23" fill="#2a3242" stroke="#2a3242" stroke-width="0.5" font-family="Liberation Serif, serif" text-anchor="middle" x="8.1 24.3 40.5 56.8 73.0 89.2 105.4 121.6 137.8 154.1">BARUPDN_UD</text></g>
<g transform="translate(483,0) scale(0.74,1)"><text y="1291" font-size="23" fill="#2a3242" stroke="#2a3242" stroke-width="0.5" font-family="Liberation Serif, serif" text-anchor="middle" x="8.1 24.3 40.5 56.8 73.0 89.2 105.4">BIAS_UD</text></g>
<g transform="translate(599,0) scale(0.74,1)"><text y="1291" font-size="23" fill="#2a3242" stroke="#2a3242" stroke-width="0.5" font-family="Liberation Serif, serif" text-anchor="middle" x="8.1 24.3 40.5 56.8 73.0 89.2 105.4">BOLL_UD</text></g>
<g transform="translate(715,0) scale(0.74,1)"><text y="1291" font-size="23" fill="#2a3242" stroke="#2a3242" stroke-width="0.5" font-family="Liberation Serif, serif" text-anchor="middle" x="8.1 24.3 40.5 56.8 73.0 89.2">CCI_UD</text></g>
<g transform="translate(819,0) scale(0.74,1)"><text y="1291" font-size="23" fill="#2a3242" stroke="#2a3242" stroke-width="0.5" font-family="Liberation Serif, serif" text-anchor="middle" x="8.1 24.3 40.5 56.8 73.0 89.2">DMI_UD</text></g>
<g transform="translate(923,0) scale(0.74,1)"><text y="1291" font-size="23" fill="#2a3242" stroke="#2a3242" stroke-width="0.5" font-family="Liberation Serif, serif" text-anchor="middle" x="8.1 24.3 40.5 56.8 73.0 89.2 105.4 121.6 137.8">INSIDE_UD</text></g>
<g transform="translate(1064,0) scale(0.74,1)"><text y="1291" font-size="23" fill="#2a3242" stroke="#2a3242" stroke-width="0.5" font-family="Liberation Serif, serif" text-anchor="middle" x="8.1 24.3">&gt;&gt;</text></g>
<text x="1332.7" y="1274.3" font-size="30" fill="#dbe7f7" letter-spacing="2.6" style="text-shadow:1px 1px 1px rgba(150,110,80,.7)">FX678</text>
</svg>
</body></html>
